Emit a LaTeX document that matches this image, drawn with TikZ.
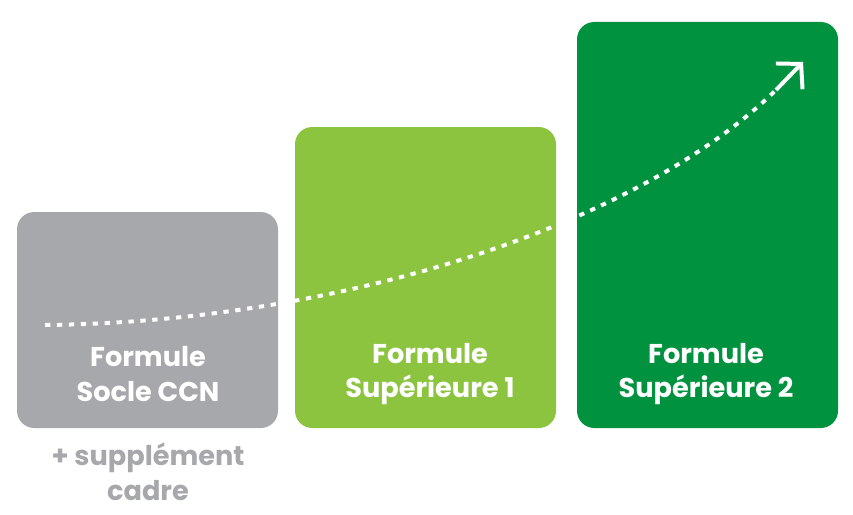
\documentclass[tikz,border=0pt]{standalone}
\usepackage{fontspec}
\setmainfont{Poppins}
\usetikzlibrary{arrows.meta}
\definecolor{socle}{HTML}{A7A8AB}
\definecolor{supun}{HTML}{8CC43F}
\definecolor{supdeux}{HTML}{00923F}
\tikzset{
  formbox/.style={rounded corners=13pt},
  formtext/.style={text=white, font=\bfseries\fontsize{20.5}{26}\selectfont, align=center},
}
\begin{document}
\begin{tikzpicture}[x=0.0265cm, y=-0.0265cm]
    \useasboundingbox (0,0) rectangle (853,515);
    \fill[socle, formbox] (17,212) rectangle (278,428);
    \fill[supun, formbox] (295,127) rectangle (556,428);
    \fill[supdeux, formbox] (577,22) rectangle (838,428);
    % progression
    \coordinate (start) at (45,325);
    \coordinate (tip) at (803,62);
    \draw[white, line width=3pt, dash pattern=on 4pt off 5pt] (start) .. controls (340,322) and (640,225) .. (778,88);
    \draw[white, line width=3pt, -{Straight Barb[length=13pt, width=28pt, line width=3pt]}] (776,90) -- (tip);
    \node[formtext] (socle) at (148,374) {Formule\\Socle CCN};
    \node[formtext] (sup1) at (430,374) {Formule\\Supérieure 1};
    \node[formtext] (sup2) at (706,374) {Formule\\Supérieure 2};
    \node[formtext, text=socle] (cadre) at (148,472) {+ supplément\\cadre};
\end{tikzpicture}
\end{document}
